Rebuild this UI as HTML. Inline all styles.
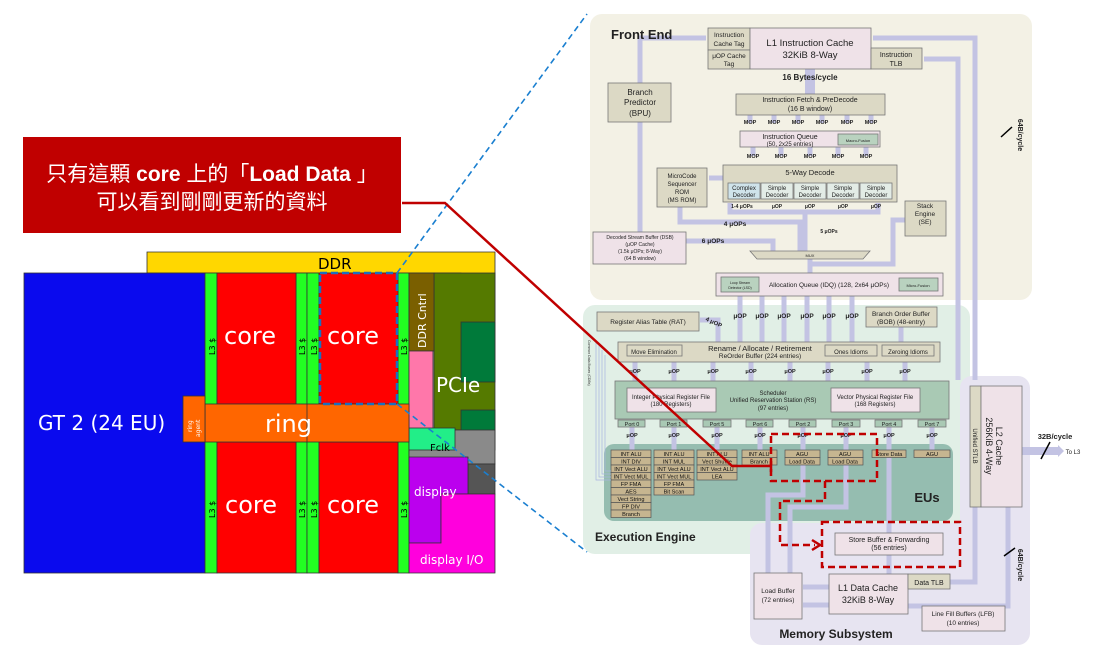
<!DOCTYPE html>
<html><head><meta charset="utf-8"><style>
html,body{margin:0;padding:0;background:#fff;}
svg{display:block;font-family:"Liberation Sans","DejaVu Sans",sans-serif;}
</style></head><body>
<svg width="1100" height="660" viewBox="0 0 1100 660" xmlns="http://www.w3.org/2000/svg">
<!-- ===== Right panels ===== -->
<rect x="590" y="14" width="442" height="286" rx="12" fill="#f3f1e5"/>
<rect x="583" y="305" width="387" height="249" rx="12" fill="#e1efe6"/>
<path d="M972 376 h46 a12 12 0 0 1 12 12 v245 a12 12 0 0 1 -12 12 h-256 a12 12 0 0 1 -12 -12 v-98 a12 12 0 0 1 12 -12 h198 v-135 a12 12 0 0 1 12 -12z" fill="#e7e4f1"/>
<rect x="604" y="444" width="349" height="77" rx="10" fill="#95bdb0"/>

<g fill="none" stroke="#c3c3e3" stroke-width="5">
<path d="M640 83 V38 H706"/>
<path d="M640 122 V232"/>
<path d="M975 380 V38 H873"/>
<path d="M958 380 V59 H924"/>
<path d="M810 69 V94" stroke-width="10"/>
<path d="M750 115v8M774 115v8M798 115v8M822 115v8M847 115v8M871 115v8"/>
<path d="M753 147v9M781 147v9M810 147v9M838 147v9M866 147v9"/>
<path d="M723 178 H709"/>
<path d="M680 207 V222 H800 V251"/>
<path d="M686 241 H773 V251"/>
<path d="M730 203 V212 H878 V203 M805 212 V251"/>
<path d="M810 259 V273"/>
<path d="M810 264 H893 V220 H905"/>
<path d="M740 296v46M762 296v46M784 296v46M807 296v46M829 296v46M852 296v46"/>
<path d="M700 320 H718 V342"/>
<path d="M901 327 V342"/>
<path d="M635 362v19M674 362v19M713 362v19M751 362v19M790 362v19M828 362v19M867 362v19M905 362v19"/>
<path d="M632 427v23M674 427v23M717 427v23M760 427v23M803 427v23M846 427v23M889 427v23M932 427v23"/>
<path d="M803 465 V495 H768 V573"/>
<path d="M846 465 V507 H790 V573"/>
<path d="M889 457 V533"/>
<path d="M889 555 V574"/>
<path d="M829 587 H803 M829 605 H803"/>
<path d="M908 582 H975 V507"/>
<path d="M908 606 H1008 V507"/>
<path d="M1022 451 H1058" stroke-width="8"/>
</g>
<line x1="1001" y1="137" x2="1012" y2="127" stroke="#000" stroke-width="1.5"/>
<line x1="1004" y1="556" x2="1015" y2="548" stroke="#000" stroke-width="1.5"/>
<line x1="1041" y1="459" x2="1050" y2="442" stroke="#000" stroke-width="1.5"/>
<path d="M1058 445 L1064 451 L1058 457z" fill="#c3c3e3"/>

<g font-size="7" fill="#222" stroke="#777" stroke-width="0.8">
<rect x="708" y="28" width="42" height="22" fill="#dcd9c5"/>
<rect x="708" y="50" width="42" height="19" fill="#dcd9c5"/>
<rect x="750" y="28" width="121" height="41" fill="#efe2e8"/>
<rect x="871" y="48" width="51" height="21" fill="#dcd9c5"/>
<rect x="608" y="83" width="63" height="39" fill="#dcd9c5"/>
<rect x="736" y="94" width="149" height="21" fill="#dcd9c5"/>
<rect x="740" y="131" width="140" height="16" fill="#efe2e8"/>
<rect x="838" y="134" width="40" height="11" fill="#b9d2bf"/>
<rect x="723" y="165" width="174" height="37" fill="#dcd9c5"/>
<rect x="728" y="183" width="32" height="16" fill="#cfe3ea"/>
<rect x="761" y="183" width="32" height="16" fill="#e3ece6"/>
<rect x="794" y="183" width="32" height="16" fill="#e3ece6"/>
<rect x="827" y="183" width="32" height="16" fill="#e3ece6"/>
<rect x="860" y="183" width="32" height="16" fill="#e3ece6"/>
<rect x="657" y="168" width="50" height="39" fill="#dcd9c5"/>
<rect x="905" y="201" width="41" height="35" fill="#dcd9c5"/>
<rect x="593" y="232" width="93" height="32" fill="#efe2e8"/>
<path d="M750 251 H870 L863 259 H757z" fill="#dcd9c5"/>
<rect x="716" y="273" width="227" height="23" fill="#efe2e8"/>
<rect x="721" y="277" width="38" height="15" fill="#b9d2bf"/>
<rect x="899" y="278" width="39" height="13" fill="#b9d2bf"/>
<rect x="597" y="312" width="102" height="19" fill="#dcd9c5"/>
<rect x="866" y="307" width="71" height="20" fill="#dcd9c5"/>
<rect x="618" y="342" width="322" height="20" fill="#dcd9c5"/>
<rect x="627" y="345" width="55" height="11" fill="#dcd9c5"/>
<rect x="825" y="345" width="52" height="11" fill="#dcd9c5"/>
<rect x="882" y="345" width="52" height="11" fill="#dcd9c5"/>
<rect x="615" y="381" width="334" height="38" fill="#a9c9b4"/>
<rect x="627" y="388" width="89" height="24" fill="#efe2e8"/>
<rect x="831" y="388" width="89" height="24" fill="#efe2e8"/>
<rect x="618" y="420" width="27" height="7" fill="#a9c9b4"/>
<rect x="660" y="420" width="27" height="7" fill="#a9c9b4"/>
<rect x="703" y="420" width="28" height="7" fill="#a9c9b4"/>
<rect x="746" y="420" width="27" height="7" fill="#a9c9b4"/>
<rect x="789" y="420" width="27" height="7" fill="#a9c9b4"/>
<rect x="832" y="420" width="28" height="7" fill="#a9c9b4"/>
<rect x="875" y="420" width="27" height="7" fill="#a9c9b4"/>
<rect x="918" y="420" width="28" height="7" fill="#a9c9b4"/>
<rect x="835" y="533" width="108" height="22" fill="#efe2e8"/>
<rect x="754" y="573" width="48" height="46" fill="#efe2e8"/>
<rect x="829" y="574" width="79" height="40" fill="#efe2e8"/>
<rect x="908" y="574" width="42" height="15" fill="#dcd9c5"/>
<rect x="922" y="606" width="83" height="25" fill="#efe2e8"/>
<rect x="970" y="386" width="11" height="121" fill="#dcd9c5"/>
<rect x="981" y="386" width="41" height="121" fill="#efe2e8"/>
</g>

<g fill="#c6b590" stroke="#555" stroke-width="0.7">
<rect x="611" y="450" width="40" height="7.5"/><rect x="611" y="457.5" width="40" height="7.5"/><rect x="611" y="465" width="40" height="7.5"/><rect x="611" y="472.5" width="40" height="7.5"/><rect x="611" y="480" width="40" height="7.5"/><rect x="611" y="487.5" width="40" height="7.5"/><rect x="611" y="495" width="40" height="7.5"/><rect x="611" y="502.5" width="40" height="7.5"/><rect x="611" y="510" width="40" height="7.5"/>
<rect x="654" y="450" width="40" height="7.5"/><rect x="654" y="457.5" width="40" height="7.5"/><rect x="654" y="465" width="40" height="7.5"/><rect x="654" y="472.5" width="40" height="7.5"/><rect x="654" y="480" width="40" height="7.5"/><rect x="654" y="487.5" width="40" height="7.5"/>
<rect x="697" y="450" width="40" height="7.5"/><rect x="697" y="457.5" width="40" height="7.5"/><rect x="697" y="465" width="40" height="7.5"/><rect x="697" y="472.5" width="40" height="7.5"/>
<rect x="742" y="450" width="35" height="7.5"/><rect x="742" y="457.5" width="35" height="7.5"/>
<rect x="785" y="450" width="35" height="7.5"/><rect x="785" y="457.5" width="35" height="7.5"/>
<rect x="828" y="450" width="35" height="7.5"/><rect x="828" y="457.5" width="35" height="7.5"/>
<rect x="872" y="450" width="34" height="7.5"/>
<rect x="914" y="450" width="36" height="7.5"/>
</g>
<g font-size="5.6" fill="#111" text-anchor="middle">
<text x="631" y="456">INT ALU</text><text x="631" y="463.5">INT DIV</text><text x="631" y="471">INT Vect ALU</text><text x="631" y="478.5">INT Vect MUL</text><text x="631" y="486">FP FMA</text><text x="631" y="493.5">AES</text><text x="631" y="501">Vect String</text><text x="631" y="508.5">FP DIV</text><text x="631" y="516">Branch</text>
<text x="674" y="456">INT ALU</text><text x="674" y="463.5">INT MUL</text><text x="674" y="471">INT Vect ALU</text><text x="674" y="478.5">INT Vect MUL</text><text x="674" y="486">FP FMA</text><text x="674" y="493.5">Bit Scan</text>
<text x="717" y="456">INT ALU</text><text x="717" y="463.5">Vect Shuffle</text><text x="717" y="471">INT Vect ALU</text><text x="717" y="478.5">LEA</text>
<text x="759" y="456">INT ALU</text><text x="759" y="463.5">Branch</text>
<text x="802" y="456">AGU</text><text x="802" y="463.5">Load Data</text>
<text x="845" y="456">AGU</text><text x="845" y="463.5">Load Data</text>
<text x="889" y="456">Store Data</text><text x="932" y="456">AGU</text>
</g>

<g fill="#222" text-anchor="middle">
<text x="611" y="39" font-size="13" font-weight="bold" text-anchor="start">Front End</text>
<text x="729" y="37" font-size="6.5">Instruction</text><text x="729" y="46" font-size="6.5">Cache Tag</text>
<text x="729" y="58" font-size="6.5">μOP Cache</text><text x="729" y="66" font-size="6.5">Tag</text>
<text x="810" y="46" font-size="9.5">L1 Instruction Cache</text><text x="810" y="58" font-size="9.5">32KiB 8-Way</text>
<text x="896" y="57" font-size="7">Instruction</text><text x="896" y="66" font-size="7">TLB</text>
<text x="810" y="80" font-size="8" font-weight="bold">16 Bytes/cycle</text>
<text x="640" y="95" font-size="8">Branch</text><text x="640" y="105" font-size="8">Predictor</text><text x="640" y="116" font-size="8">(BPU)</text>
<text x="810" y="102" font-size="7">Instruction Fetch &amp; PreDecode</text><text x="810" y="111" font-size="7">(16 B window)</text>
<g font-size="5.5" font-weight="bold"><text x="750" y="124">MOP</text><text x="774" y="124">MOP</text><text x="798" y="124">MOP</text><text x="822" y="124">MOP</text><text x="847" y="124">MOP</text><text x="871" y="124">MOP</text>
<text x="753" y="158">MOP</text><text x="781" y="158">MOP</text><text x="810" y="158">MOP</text><text x="838" y="158">MOP</text><text x="866" y="158">MOP</text></g>
<text x="790" y="139" font-size="7">Instruction Queue</text><text x="790" y="146" font-size="6">(50, 2x25 entries)</text>
<text x="858" y="142" font-size="4">Macro-Fusion</text>
<text x="810" y="175" font-size="7.5">5-Way Decode</text>
<g font-size="6"><text x="744" y="190">Complex</text><text x="744" y="197">Decoder</text><text x="777" y="190">Simple</text><text x="777" y="197">Decoder</text><text x="810" y="190">Simple</text><text x="810" y="197">Decoder</text><text x="843" y="190">Simple</text><text x="843" y="197">Decoder</text><text x="876" y="190">Simple</text><text x="876" y="197">Decoder</text></g>
<g font-size="6"><text x="682" y="178">MicroCode</text><text x="682" y="186">Sequencer</text><text x="682" y="194">ROM</text><text x="682" y="202">(MS ROM)</text></g>
<g font-size="5" font-weight="bold"><text x="742" y="208">1-4 μOPs</text><text x="777" y="208">μOP</text><text x="810" y="208">μOP</text><text x="843" y="208">μOP</text><text x="876" y="208">μOP</text></g>
<text x="735" y="226" font-size="6.5" font-weight="bold">4 μOPs</text>
<text x="829" y="233" font-size="5" font-weight="bold">5 μOPs</text>
<text x="713" y="243" font-size="6.5" font-weight="bold">6 μOPs</text>
<g font-size="6.5"><text x="925" y="208">Stack</text><text x="925" y="216">Engine</text><text x="925" y="224">(SE)</text></g>
<g font-size="5"><text x="640" y="239">Decoded Stream Buffer (DSB)</text><text x="640" y="246">(μOP Cache)</text><text x="640" y="253">(1.5k μOPs; 8-Way)</text><text x="640" y="260">(64 B window)</text></g>
<text x="810" y="257" font-size="4">MUX</text>
<text x="829" y="287" font-size="6.5">Allocation Queue (IDQ) (128, 2x64 μOPs)</text>
<text x="740" y="284" font-size="3.5">Loop Stream</text><text x="740" y="289" font-size="3.5">Detector (LSD)</text>
<text x="918" y="287" font-size="4">Micro-Fusion</text>
<text x="648" y="324" font-size="6.5">Register Alias Table (RAT)</text>
<g font-size="6.5" font-weight="bold"><text x="740" y="318">μOP</text><text x="762" y="318">μOP</text><text x="784" y="318">μOP</text><text x="807" y="318">μOP</text><text x="829" y="318">μOP</text><text x="852" y="318">μOP</text></g>
<text x="713" y="324" font-size="6" font-weight="bold" transform="rotate(25 713 324)">4 μOP</text>
<text x="901" y="316" font-size="6.5">Branch Order Buffer</text><text x="901" y="324" font-size="6.5">(BOB) (48-entry)</text>
<text x="654" y="354" font-size="6">Move Elimination</text><text x="851" y="354" font-size="6">Ones Idioms</text><text x="908" y="354" font-size="6">Zeroing Idioms</text>
<text x="760" y="351" font-size="7.5">Rename / Allocate / Retirement</text><text x="760" y="358" font-size="6.5">ReOrder Buffer (224 entries)</text>
<g font-size="5.5" font-weight="bold"><text x="635" y="373">μOP</text><text x="674" y="373">μOP</text><text x="713" y="373">μOP</text><text x="751" y="373">μOP</text><text x="790" y="373">μOP</text><text x="828" y="373">μOP</text><text x="867" y="373">μOP</text><text x="905" y="373">μOP</text></g>
<text x="773" y="395" font-size="6">Scheduler</text><text x="773" y="402" font-size="6">Unified Reservation Station (RS)</text><text x="773" y="410" font-size="6">(97 entries)</text>
<text x="671" y="399" font-size="6">Integer Physical Register File</text><text x="671" y="406" font-size="6">(180 Registers)</text>
<text x="875" y="399" font-size="6">Vector Physical Register File</text><text x="875" y="406" font-size="6">(168 Registers)</text>
<g font-size="5.5"><text x="632" y="426">Port 0</text><text x="674" y="426">Port 1</text><text x="717" y="426">Port 5</text><text x="760" y="426">Port 6</text><text x="803" y="426">Port 2</text><text x="846" y="426">Port 3</text><text x="889" y="426">Port 4</text><text x="932" y="426">Port 7</text></g>
<g font-size="5.5" font-weight="bold"><text x="632" y="437">μOP</text><text x="674" y="437">μOP</text><text x="717" y="437">μOP</text><text x="760" y="437">μOP</text><text x="803" y="437">μOP</text><text x="846" y="437">μOP</text><text x="889" y="437">μOP</text><text x="932" y="437">μOP</text></g>
<text x="927" y="502" font-size="13" font-weight="bold">EUs</text>
<text x="595" y="541" font-size="12" font-weight="bold" text-anchor="start">Execution Engine</text>
<text x="889" y="542" font-size="7">Store Buffer &amp; Forwarding</text><text x="889" y="550" font-size="7">(56 entries)</text>
<text x="778" y="593" font-size="6.5">Load Buffer</text><text x="778" y="602" font-size="6.5">(72 entries)</text>
<text x="868" y="591" font-size="9">L1 Data Cache</text><text x="868" y="603" font-size="9">32KiB 8-Way</text>
<text x="929" y="585" font-size="7">Data TLB</text>
<text x="963" y="616" font-size="6.5">Line Fill Buffers (LFB)</text><text x="963" y="625" font-size="6.5">(10 entries)</text>
<text x="836" y="638" font-size="12" font-weight="bold">Memory Subsystem</text>
<text x="996" y="446" font-size="9" transform="rotate(90 996 446)">L2 Cache</text>
<text x="986" y="446" font-size="9" transform="rotate(90 986 446)">256KiB 4-Way</text>
<text x="973" y="446" font-size="6" transform="rotate(90 973 446)">Unified STLB</text>
<text x="1055" y="439" font-size="7.5" font-weight="bold">32B/cycle</text>
<text x="1073" y="454" font-size="6">To L3</text>
<text x="1018" y="135" font-size="7" font-weight="bold" transform="rotate(90 1018 135)">64B/cycle</text>
<text x="1018" y="565" font-size="7" font-weight="bold" transform="rotate(90 1018 565)">64B/cycle</text>
</g>
<g stroke="#a8b4e0" stroke-width="0.7" fill="none">
<path d="M596 340 V480 H611 M599 345 V477 H611 M602 350 V474 H611 M605 355 V471 H611"/>
</g>
<text x="588" y="340" font-size="3.5" fill="#333" transform="rotate(90 588 340)">Common Data Buses (CDBs)</text>

<g fill="none" stroke="#c00000" stroke-width="2.5" stroke-dasharray="7,4">
<rect x="771" y="434" width="106" height="47"/>
<rect x="822" y="522" width="138" height="45"/>
<path d="M825 481 V501 H780 V545 H815"/>
</g>
<path d="M812 540 L820 545 L812 550" fill="none" stroke="#c00000" stroke-width="2.5"/>

<!-- ===== Left die ===== -->
<g stroke="#333" stroke-width="0.8">
<path d="M147 252 H495 V321 H461 V273 H147z" fill="#ffd700"/>
<rect x="24" y="273" width="181" height="300" fill="#0a0aee"/>
<rect x="205" y="273" width="12" height="300" fill="#22ff22"/>
<rect x="296" y="273" width="11" height="300" fill="#22ff22"/>
<rect x="307" y="273" width="12" height="300" fill="#22ff22"/>
<rect x="398" y="273" width="11" height="300" fill="#22ff22"/>
<rect x="217" y="273" width="79" height="131" fill="#ff0000"/>
<rect x="319" y="273" width="79" height="131" fill="#ff0000"/>
<rect x="217" y="442" width="79" height="131" fill="#ff0000"/>
<rect x="319" y="442" width="79" height="131" fill="#ff0000"/>
<rect x="434" y="273" width="61" height="157" fill="#557a00"/>
<rect x="409" y="273" width="25" height="78" fill="#7a5f00"/>
<rect x="461" y="322" width="34" height="60" fill="#007a3a"/>
<rect x="461" y="410" width="34" height="40" fill="#007a3a"/>
<rect x="409" y="351" width="24" height="89" fill="#ff77aa"/>
<rect x="409" y="430" width="86" height="34" fill="#8a8a8a"/>
<rect x="409" y="428" width="46" height="22" fill="#22ee88"/>
<rect x="468" y="464" width="27" height="30" fill="#555"/>
<path d="M409 457 H468 V494 H441 V543 H409z" fill="#bb00ee"/>
<path d="M409 543 H441 V494 H495 V573 H409z" fill="#ff00dd"/>
<rect x="205" y="404" width="204" height="38" fill="#ff6600"/>
<rect x="183" y="396" width="22" height="46" fill="#ff6600"/>
<line x1="307" y1="404" x2="307" y2="442"/>
</g>
<g fill="#fff" font-family="'DejaVu Sans','Liberation Sans',sans-serif">
<text x="38" y="430" font-size="20">GT 2 (24 EU)</text>
<text x="224" y="344" font-size="24">core</text><text x="327" y="344" font-size="24">core</text>
<text x="225" y="513" font-size="24">core</text><text x="327" y="513" font-size="24">core</text>
<text x="265" y="432" font-size="24">ring</text>
<text x="436" y="392" font-size="20">PCIe</text>
<text x="414" y="496" font-size="12">display</text>
<text x="420" y="564" font-size="12">display I/O</text>
<text x="426" y="348" font-size="11" transform="rotate(-90 426 348)">DDR Cntrl</text>
<text x="192" y="432" font-size="6" transform="rotate(-90 192 432)">ring</text>
<text x="200" y="437" font-size="6" transform="rotate(-90 200 437)">agent</text>
</g>
<g fill="#000" font-family="'DejaVu Sans','Liberation Sans',sans-serif">
<text x="318" y="269" font-size="15">DDR</text>
<text x="430" y="451" font-size="10">Fclk</text>
<g font-size="8"><text x="215" y="355" transform="rotate(-90 215 355)">L3 $</text><text x="305" y="355" transform="rotate(-90 305 355)">L3 $</text><text x="317" y="355" transform="rotate(-90 317 355)">L3 $</text><text x="407" y="355" transform="rotate(-90 407 355)">L3 $</text>
<text x="215" y="518" transform="rotate(-90 215 518)">L3 $</text><text x="305" y="518" transform="rotate(-90 305 518)">L3 $</text><text x="317" y="518" transform="rotate(-90 317 518)">L3 $</text><text x="407" y="518" transform="rotate(-90 407 518)">L3 $</text></g>
</g>
<rect x="320" y="273" width="77" height="131" fill="none" stroke="#1a6fc0" stroke-width="2.5" stroke-dasharray="7,4"/>
<g stroke="#1a7fd0" stroke-width="1.6" stroke-dasharray="6,4" fill="none">
<path d="M397 273 L587 14"/><path d="M397 404 L587 552"/>
</g>

<rect x="23" y="137" width="378" height="96" fill="#c00000"/>
<g fill="#fff" font-size="21" text-anchor="middle" font-family="'Liberation Sans','Noto Sans CJK TC',sans-serif">
<text x="212" y="181">只有這顆 <tspan font-weight="bold">core</tspan> 上的「<tspan font-weight="bold">Load Data</tspan> 」</text>
<text x="212" y="209">可以看到剛剛更新的資料</text>
</g>
<path d="M402 203 H445 L732 466 H771 M771 461 V472" fill="none" stroke="#c00000" stroke-width="2.5"/>
</svg>
</body></html>
